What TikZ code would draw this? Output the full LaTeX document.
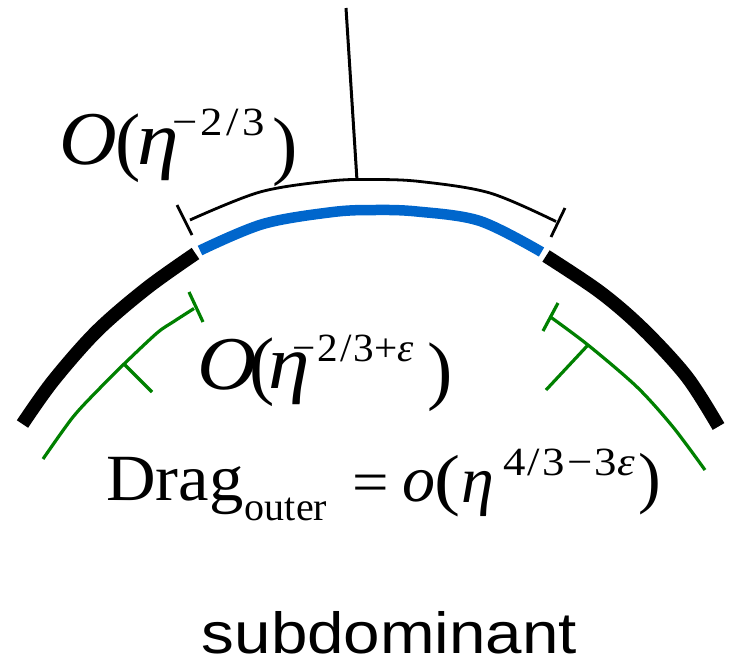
\documentclass[tikz,border=0pt]{standalone}
\usepackage{graphicx}
\usepackage{fontspec}
\setmainfont{Liberation Serif}
\newfontfamily\sansf{Liberation Sans}
\definecolor{arcblue}{RGB}{0,102,204}
\definecolor{grn}{RGB}{0,128,0}
\tikzset{
  thickarc/.style={line width=13.5pt, black},
  bluearc/.style={line width=10.5pt, arcblue},
  bracketline/.style={line width=2.8pt, black, line join=round},
  greenline/.style={line width=3.2pt, grn, line join=round},
  txt/.style={inner sep=0pt, anchor=base},
  big/.style={font=\fontsize{76}{76}\selectfont},
  mid/.style={font=\fontsize{66}{66}\selectfont},
  small/.style={font=\fontsize{40}{40}\selectfont},
}
\newcommand{\sx}[2]{\scalebox{#1}[1]{#2}}
\begin{document}
\begin{tikzpicture}[x=1pt,y=-1pt]
\useasboundingbox (0,0) rectangle (732,662);
% main arc
\draw[thickarc] plot[smooth, tension=0.55] coordinates {(22.5,424) (53,381) (97,331) (147,288) (195.5,253.5)};
\draw[bluearc] plot[smooth, tension=0.55] coordinates {(200,250.5) (263,224) (333,212) (375,210) (417,211.5) (480,221) (541.5,252)};
\draw[thickarc] plot[smooth, tension=0.55] coordinates {(546,256) (600,292) (643,329) (687,377) (718.5,426.5)};
% bracket
\coordinate (bl) at (190,220);
\coordinate (br) at (556,221.5);
\coordinate (bt) at (357,180.5);
\draw[bracketline] plot[smooth, tension=0.55] coordinates {(bl) (260,192) (330,181) (372,179.5) (420,181.5) (490,193) (br)};
\coordinate (blt1) at (177,205); \coordinate (blt2) at (192,235);
\coordinate (brt1) at (565,208); \coordinate (brt2) at (551,237);
\draw[bracketline] (blt1) -- (blt2);
\draw[bracketline] (brt1) -- (brt2);
\coordinate (vtop) at (346,8);
\draw[line width=3pt] (vtop) -- (bt);
% green left
\draw[greenline] plot[smooth, tension=0.5] coordinates {(43,459) (73,417) (100,388) (124,364) (157,333) (173,322) (194,308.5)};
\coordinate (glt1) at (189,292); \coordinate (glt2) at (203,322);
\draw[greenline] (glt1) -- (glt2);
\coordinate (glm1) at (124,364); \coordinate (glm2) at (152,392);
\draw[greenline] (glm1) -- (glm2);
% green right
\draw[greenline] plot[smooth, tension=0.5] coordinates {(550.5,317) (588,345) (637,387) (673,427) (705,470)};
\coordinate (grt1) at (558,303); \coordinate (grt2) at (543,331);
\draw[greenline] (grt1) -- (grt2);
\coordinate (grm1) at (588,345); \coordinate (grm2) at (546,390);
\draw[greenline] (grm1) -- (grm2);
% top formula
\node[txt,big] (t1O) at (88,164) {\sx{1.05}{\textit{O}}};
\node[txt,big] (t1l) at (128,166) {(};
\node[txt,big] (t1e) at (158.5,164) {\sx{1.1}{\textit{η}}};
\node[txt,small] (t1s) at (218.5,135) {\sx{1.12}{−\kern3pt 2\kern3pt/\kern3pt 3}};
\node[txt,big] (t1r) at (285,170) {)};
% middle formula
\node[txt,big] (t2O) at (227.5,389) {\sx{1.08}{\textit{O}}};
\node[txt,big] (t2l) at (262,390) {(};
\node[txt,big] (t2e) at (289,388) {\sx{1.1}{\textit{η}}};
\node[txt,small] (t2s) at (353,361) {\sx{1.03}{−\kern2pt 2\kern2pt/\kern2pt 3+\textit{ε}}};
\node[txt,big] (t2r) at (440.5,395) {)};
% bottom formula
\node[txt,mid] (t3) at (175,500) {\sx{1.04}{Drag}};
\node[txt,font=\fontsize{40}{40}\selectfont] (t3s) at (286,520) {outer};
\node[txt,font=\fontsize{60}{60}\selectfont] (t3e) at (370.5,502.5) {\sx{1.08}{=}};
\node[txt,mid] (t3o) at (419,501) {\textit{o}};
\node[txt,font=\fontsize{68}{68}\selectfont] (t3l) at (447.5,502) {\sx{1.15}{(}};
\node[txt,mid] (t3eta) at (478,502) {\textit{η}};
\node[txt,small] (t3x) at (569,475) {\sx{1.12}{4\kern2pt/\kern2pt 3\kern2pt−\kern2pt 3\textit{ε}}};
\node[txt,font=\fontsize{68}{68}\selectfont] (t3r) at (649.5,500) {)};
% caption
\node[txt,font=\sansf\fontsize{58}{58}\selectfont] (sub) at (389.5,653) {\sx{1.13}{subdominant}};
\end{tikzpicture}
\end{document}
